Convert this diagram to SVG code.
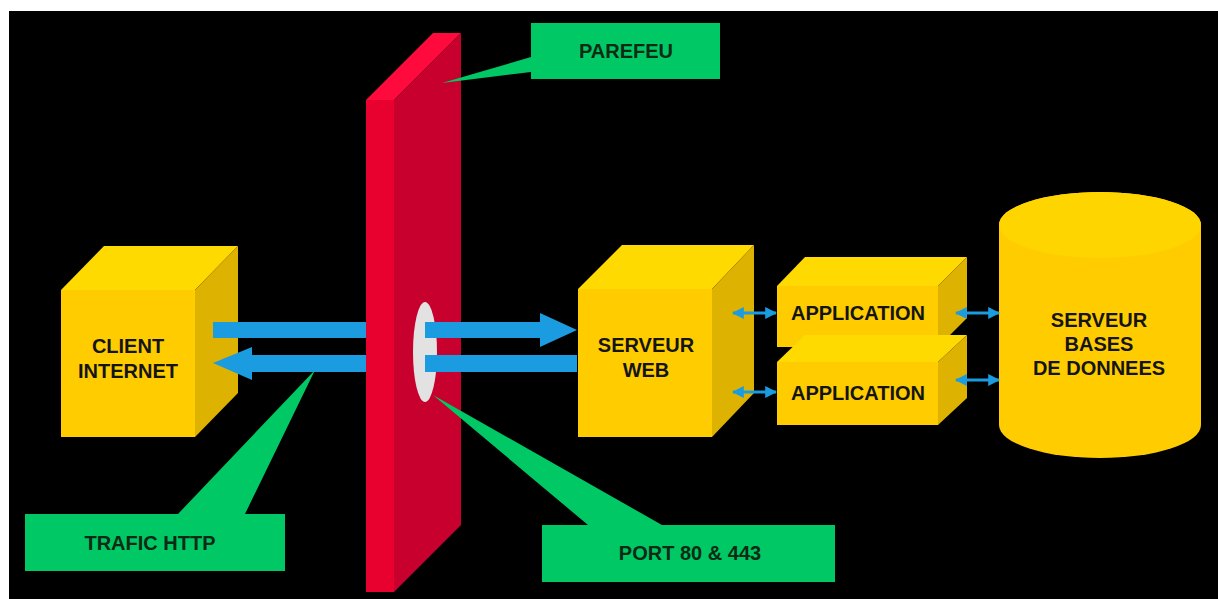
<svg xmlns="http://www.w3.org/2000/svg" width="1218" height="599" viewBox="0 0 1218 599">
<defs>
<style>
.lbl{font-family:"Liberation Sans",Arial,sans-serif;font-weight:bold;font-size:20px;fill:#141414;text-anchor:middle}
.glbl{font-family:"Liberation Sans",Arial,sans-serif;font-weight:bold;font-size:20px;fill:#0d2a14;text-anchor:middle}
.front{fill:#FFCC00}
.top{fill:#FFDA00}
.side{fill:#DDB200}
.callout{fill:#00C865}
.flow{fill:#1B9BE0}
.small{stroke:#1B9BE0;stroke-width:3;fill:none;marker-start:url(#ah);marker-end:url(#ah)}
</style>
<marker id="ah" viewBox="0 0 10 10" refX="9" refY="5" markerWidth="4" markerHeight="4" orient="auto-start-reverse" markerUnits="strokeWidth">
<path d="M0,0 L10,5 L0,10 Z" fill="#1B9BE0"/>
</marker>
</defs>
<rect x="0" y="0" width="1218" height="599" fill="#fff"/>
<rect x="9" y="11" width="1209" height="588" fill="#000"/>

<g id="firewall">
<polygon points="366,100 433,33 461,33 394,100" fill="#FF0A3C"/>
<polygon points="366,100 394,100 394,592 366,592" fill="#E8002E"/>
<polygon points="394,100 461,33 461,525 394,592" fill="#C8002E"/>
<ellipse cx="425" cy="352" rx="12" ry="50" fill="#E2E2E2"/>
</g>

<g id="client">
<polygon class="top" points="61,290 104,246 238,246 195,290"/>
<polygon class="side" points="195,290 238,246 238,393 195,437"/>
<rect class="front" x="61" y="290" width="134" height="147"/>
<text class="lbl" x="128" y="353">CLIENT</text>
<text class="lbl" x="128" y="378">INTERNET</text>
</g>

<g id="serveur-web">
<polygon class="top" points="578,289 622,245 754,245 712,289"/>
<polygon class="side" points="712,289 754,245 754,393 712,437"/>
<rect class="front" x="578" y="289" width="134" height="148"/>
<text class="lbl" x="646" y="352">SERVEUR</text>
<text class="lbl" x="646" y="377">WEB</text>
</g>

<g id="application-1">
<polygon class="top" points="777,286 805,257 967,257 938,286"/>
<polygon class="side" points="938,286 967,257 967,318 938,347"/>
<rect class="front" x="777" y="286" width="161" height="61"/>
<text class="lbl" x="858" y="320">APPLICATION</text>
</g>

<g id="application-2">
<polygon class="top" points="777,362 805,335 967,335 938,362"/>
<polygon class="side" points="938,362 967,335 967,398 938,425"/>
<rect class="front" x="777" y="362" width="161" height="63"/>
<text class="lbl" x="858" y="400">APPLICATION</text>
</g>

<g id="base-de-donnees">
<path class="front" d="M999,225 V425 A101,33 0 0 0 1201,425 V225 A101,33 0 0 0 999,225 Z"/>
<ellipse cx="1100" cy="225" rx="101" ry="33" fill="#FFD500"/>
<text class="lbl" x="1099" y="327">SERVEUR</text>
<text class="lbl" x="1099" y="351">BASES</text>
<text class="lbl" x="1099" y="375">DE DONNEES</text>
</g>

<g id="connectors">
<rect class="flow" x="213" y="322" width="153" height="16"/>
<path class="flow" d="M425,322 H540 V313 L577,330 L540,347 V338 H425 Z"/>
<rect class="flow" x="425" y="355" width="152" height="17"/>
<path class="flow" d="M366,355 H252 V347 L213,363 L252,380 V372 H366 Z"/>
<line class="small" x1="733" y1="313" x2="776" y2="313"/>
<line class="small" x1="733" y1="392" x2="776" y2="392"/>
<line class="small" x1="956" y1="313" x2="999" y2="313"/>
<line class="small" x1="956" y1="380" x2="999" y2="380"/>
</g>

<g id="label-parefeu">
<path class="callout" d="M531,23 H720 V79 H531 V72 L442,83 L531,57 Z"/>
<text class="glbl" x="626" y="58">PAREFEU</text>
</g>

<g id="label-trafic-http">
<path class="callout" d="M25,514 H178 L315,370 L245,514 H285 V571 H25 Z"/>
<text class="glbl" x="150" y="550">TRAFIC HTTP</text>
</g>

<g id="label-port">
<path class="callout" d="M542,525 H588 L433,395 L662,525 H835 V582 H542 Z"/>
<text class="glbl" x="690" y="560">PORT 80 &amp; 443</text>
</g>
</svg>
